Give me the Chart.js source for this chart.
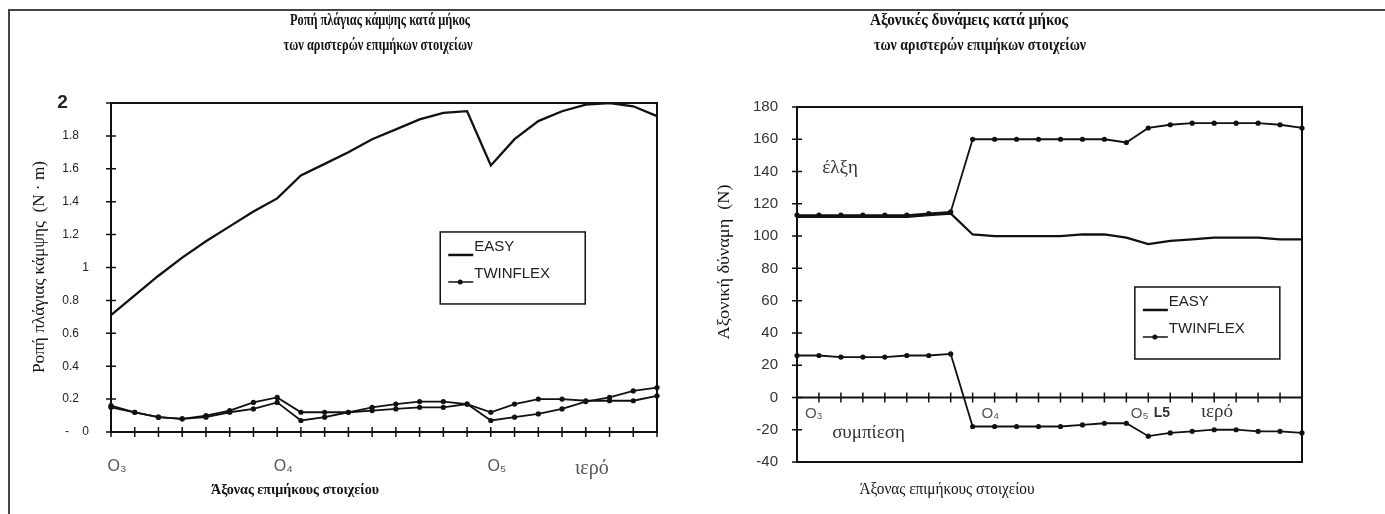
<!DOCTYPE html>
<html>
<head>
<meta charset="utf-8">
<script src="https://cdn.jsdelivr.net/npm/chart.js@4.4.1/dist/chart.umd.min.js"></script>
<style>
html, body { margin: 0; padding: 0; background: #fff; }
body { width: 1385px; height: 514px; position: relative; overflow: hidden; }
#frame { position: absolute; left: 8px; top: 9px; width: 1377px; height: 505px; border-top: 2px solid #444; border-left: 2px solid #444; }
.box { position: absolute; top: 0; height: 514px; }
#leftBox { left: 0; width: 690px; }
#rightBox { left: 690px; width: 695px; }
</style>
</head>
<body>
<div id="frame"></div>
<div class="box" id="leftBox"><canvas id="momentChart"></canvas></div>
<div class="box" id="rightBox"><canvas id="forceChart"></canvas></div>
<script>
// stations along the left longitudinal members, O3 ... sacrum
var stations = ['O₃', '', '', '', '', '', '', 'O₄', '', '', '', '', '', '', '', '', 'O₅', '', '', '', 'ιερό', '', '', ''];
var blank = stations.map(function () { return ''; });

// lateral bending moment (N·m)
var momentTicks = [0, 0.2, 0.4, 0.6, 0.8, 1, 1.2, 1.4, 1.6, 1.8, 2];
var momentEasy = [0.71, 0.83, 0.95, 1.06, 1.16, 1.25, 1.34, 1.42, 1.56, 1.63, 1.70, 1.78, 1.84, 1.90, 1.94, 1.95, 1.62, 1.78, 1.89, 1.95, 1.99, 2.00, 1.98, 1.92];
var momentTwinA = [0.16, 0.12, 0.09, 0.08, 0.10, 0.13, 0.18, 0.21, 0.12, 0.12, 0.12, 0.15, 0.17, 0.185, 0.185, 0.17, 0.12, 0.17, 0.20, 0.20, 0.19, 0.19, 0.19, 0.22];
var momentTwinB = [0.15, 0.12, 0.09, 0.08, 0.09, 0.12, 0.14, 0.18, 0.07, 0.09, 0.12, 0.13, 0.14, 0.15, 0.15, 0.17, 0.07, 0.09, 0.11, 0.14, 0.185, 0.21, 0.25, 0.27];

// axial forces (N)
var forceTicks = [-40, -20, 0, 20, 40, 60, 80, 100, 120, 140, 160, 180];
var forceEasy = [112, 112, 112, 112, 112, 112, 113, 114, 101, 100, 100, 100, 100, 101, 101, 99, 95, 97, 98, 99, 99, 99, 98, 98];
var forceTwinUp = [113, 113, 113, 113, 113, 113, 114, 115, 160, 160, 160, 160, 160, 160, 160, 158, 167, 169, 170, 170, 170, 170, 169, 167];
var forceTwinLow = [26, 26, 25, 25, 25, 26, 26, 27, -18, -18, -18, -18, -18, -17, -16, -16, -24, -22, -21, -20, -20, -21, -21, -22];

var sans = 'Liberation Sans, Arial, sans-serif';
var serif = 'Liberation Serif, serif';

// titles in the narrow serif of the original: squeezed to the width they take there
var texts = {
  id: 'texts',
  afterDraw: function (chart, args, o) {
    var c = chart.ctx;
    o.items.forEach(function (t) {
      c.save();
      c.font = t.font;
      c.fillStyle = '#111';
      c.textAlign = 'center';
      c.textBaseline = 'middle';
      var sx = t.w / c.measureText(t.text).width;
      c.translate(t.x, t.y);
      if (t.rot) c.rotate(-Math.PI / 2);
      c.scale(sx, 1);
      c.fillText(t.text, 0, 0);
      c.restore();
    });
  }
};

// plot box, base line and the little cross ticks
var frame = {
  id: 'frame',
  afterDatasetsDraw: function (chart, args, o) {
    var a = chart.chartArea, c = chart.ctx, x = chart.scales.x, y = chart.scales.y;
    c.save();
    c.strokeStyle = '#111';
    c.lineWidth = 2;
    c.strokeRect(a.left, a.top, a.right - a.left, a.bottom - a.top);
    var base = y.getPixelForValue(o.base);
    c.beginPath();
    c.moveTo(a.left, base);
    c.lineTo(a.right, base);
    c.stroke();
    c.lineWidth = 1.5;
    c.beginPath();
    for (var i = 0; i < chart.data.labels.length; i++) {
      var px = x.getPixelForValue(i);
      c.moveTo(px, base - 5);
      c.lineTo(px, base + 5);
    }
    y.ticks.forEach(function (t) {
      var py = y.getPixelForValue(t.value);
      c.moveTo(a.left - 5, py);
      c.lineTo(a.left + 5, py);
    });
    c.stroke();
    c.restore();
  }
};

var keyBox = {
  id: 'keyBox',
  afterDraw: function (chart, args, o) {
    var a = chart.chartArea, c = chart.ctx;
    var bx = a.left + o.fx * (a.right - a.left), by = a.top + o.fy * (a.bottom - a.top);
    c.save();
    c.fillStyle = '#fff';
    c.fillRect(bx, by, 145, 72);
    c.strokeStyle = '#111';
    c.lineWidth = 1.5;
    c.strokeRect(bx, by, 145, 72);
    var seen = [];
    chart.data.datasets.forEach(function (d) {
      if (seen.indexOf(d.label) >= 0) return;
      var ly = by + 23 + seen.length * 27;
      seen.push(d.label);
      c.strokeStyle = '#111';
      c.lineWidth = d.pointRadius ? 1.5 : 2.5;
      c.beginPath();
      c.moveTo(bx + 8, ly);
      c.lineTo(bx + 33, ly);
      c.stroke();
      if (d.pointRadius) {
        c.beginPath();
        c.arc(bx + 20, ly, 2.5, 0, 2 * Math.PI);
        c.fillStyle = '#111';
        c.fill();
      }
      c.fillStyle = '#222';
      c.font = '15px ' + sans;
      c.textAlign = 'left';
      c.textBaseline = 'alphabetic';
      c.fillText(d.label, bx + 34, ly - 4);
    });
    c.restore();
  }
};

var notes = {
  id: 'notes',
  afterDraw: function (chart, args, o) {
    var c = chart.ctx, x = chart.scales.x, y = chart.scales.y;
    c.save();
    c.textAlign = 'left';
    c.textBaseline = 'middle';
    (o.items || []).forEach(function (n) {
      c.font = n.font;
      c.fillStyle = n.color;
      c.fillText(n.text, x.getPixelForValue(n.i), y.getPixelForValue(n.v));
    });
    c.restore();
  }
};

function lineSet(label, data, dots) {
  return {
    label: label,
    data: data,
    borderColor: '#111',
    backgroundColor: '#111',
    borderWidth: dots ? 1.8 : 2.3,
    pointRadius: dots ? 2.6 : 0,
    pointBorderWidth: 0,
    pointBackgroundColor: '#111',
    tension: 0
  };
}

function momentLabel(v) {
  if (v === 2) return '2    ';
  if (v === 0) return '-    0';
  if (v === 1) return '1';
  return v.toFixed(1) + '   ';
}

new Chart(document.getElementById('momentChart'), {
  type: 'line',
  data: {
    labels: stations,
    datasets: [
      lineSet('EASY', momentEasy, false),
      lineSet('TWINFLEX', momentTwinA, true),
      lineSet('TWINFLEX', momentTwinB, true)
    ]
  },
  options: {
    responsive: true,
    maintainAspectRatio: false,
    animation: false,
    events: [],
    layout: { padding: { top: 103, right: 33, left: 0, bottom: 0 } },
    plugins: {
      legend: { display: false },
      tooltip: { enabled: false },
      texts: {
        items: [
          { text: 'Ροπή πλάγιας κάμψης κατά μήκος', x: 380, y: 21, w: 180, font: 'bold 16px ' + serif },
          { text: 'των αριστερών επιμήκων στοιχείων', x: 378, y: 46, w: 189, font: 'bold 16px ' + serif },
          { text: 'Άξονας επιμήκους στοιχείου', x: 295, y: 490, w: 168, font: 'bold 15px ' + serif },
          { text: 'Ροπή πλάγιας κάμψης  (N · m)', x: 40, y: 267, w: 212, font: '17px ' + serif, rot: true }
        ]
      },
      frame: { base: 0 },
      keyBox: { fx: 0.603, fy: 0.392 }
    },
    scales: {
      x: {
        afterFit: function (s) { s.height = 82; },
        grid: { display: false, drawTicks: false },
        border: { display: false },
        ticks: {
          autoSkip: false, maxRotation: 0, padding: 25, labelOffset: 6, color: '#555',
          font: function (ctx) { return ctx.index === 20 ? { family: serif, size: 20 } : { family: sans, size: 16 }; }
        }
      },
      y: {
        min: 0,
        max: 2,
        afterBuildTicks: function (s) { s.ticks = momentTicks.map(function (v) { return { value: v }; }); },
        afterFit: function (s) { s.width = 111; },
        grid: { display: false, drawTicks: false },
        border: { display: false },
        ticks: {
          padding: 22, color: '#222',
          font: function (ctx) { return ctx.tick && ctx.tick.value === 2 ? { family: sans, size: 19, weight: 'bold' } : { family: sans, size: 12 }; },
          callback: momentLabel
        }
      }
    }
  },
  plugins: [texts, frame, keyBox]
});

new Chart(document.getElementById('forceChart'), {
  type: 'line',
  data: {
    labels: blank,
    datasets: [
      lineSet('EASY', forceEasy, false),
      lineSet('TWINFLEX', forceTwinUp, true),
      lineSet('TWINFLEX', forceTwinLow, true)
    ]
  },
  options: {
    responsive: true,
    maintainAspectRatio: false,
    animation: false,
    events: [],
    layout: { padding: { top: 107, right: 83, left: 0, bottom: 0 } },
    plugins: {
      legend: { display: false },
      tooltip: { enabled: false },
      texts: {
        items: [
          { text: 'Αξονικές δυνάμεις κατά μήκος', x: 279, y: 21, w: 198, font: 'bold 16px ' + serif },
          { text: 'των αριστερών επιμήκων στοιχείων', x: 290, y: 46, w: 212, font: 'bold 16px ' + serif },
          { text: 'Άξονας επιμήκους στοιχείου', x: 257, y: 490, w: 175, font: '16px ' + serif },
          { text: 'Αξονική δύναμη  (N)', x: 35, y: 262, w: 155, font: '17px ' + serif, rot: true }
        ]
      },
      frame: { base: 0 },
      keyBox: { fx: 0.669, fy: 0.507 },
      notes: {
        items: [
          { text: 'έλξη', i: 1.15, v: 142, font: '19px ' + serif, color: '#333' },
          { text: 'συμπίεση', i: 1.6, v: -22, font: '19px ' + serif, color: '#333' },
          { text: 'O₃', i: 0.36, v: -10, font: '15px ' + sans, color: '#555' },
          { text: 'O₄', i: 8.4, v: -10, font: '15px ' + sans, color: '#555' },
          { text: 'O₅', i: 15.2, v: -10, font: '15px ' + sans, color: '#555' },
          { text: 'L5', i: 16.25, v: -10, font: 'bold 14px ' + sans, color: '#333' },
          { text: 'ιερό', i: 18.4, v: -9, font: '19px ' + serif, color: '#333' }
        ]
      }
    },
    scales: {
      x: {
        afterFit: function (s) { s.height = 52; },
        grid: { display: false, drawTicks: false },
        border: { display: false },
        ticks: { display: false }
      },
      y: {
        min: -40,
        max: 180,
        afterBuildTicks: function (s) { s.ticks = forceTicks.map(function (v) { return { value: v }; }); },
        afterFit: function (s) { s.width = 107; },
        grid: { display: false, drawTicks: false },
        border: { display: false },
        ticks: { padding: 19, color: '#333', font: { family: sans, size: 15 } }
      }
    }
  },
  plugins: [texts, frame, keyBox, notes]
});
</script>
</body>
</html>
